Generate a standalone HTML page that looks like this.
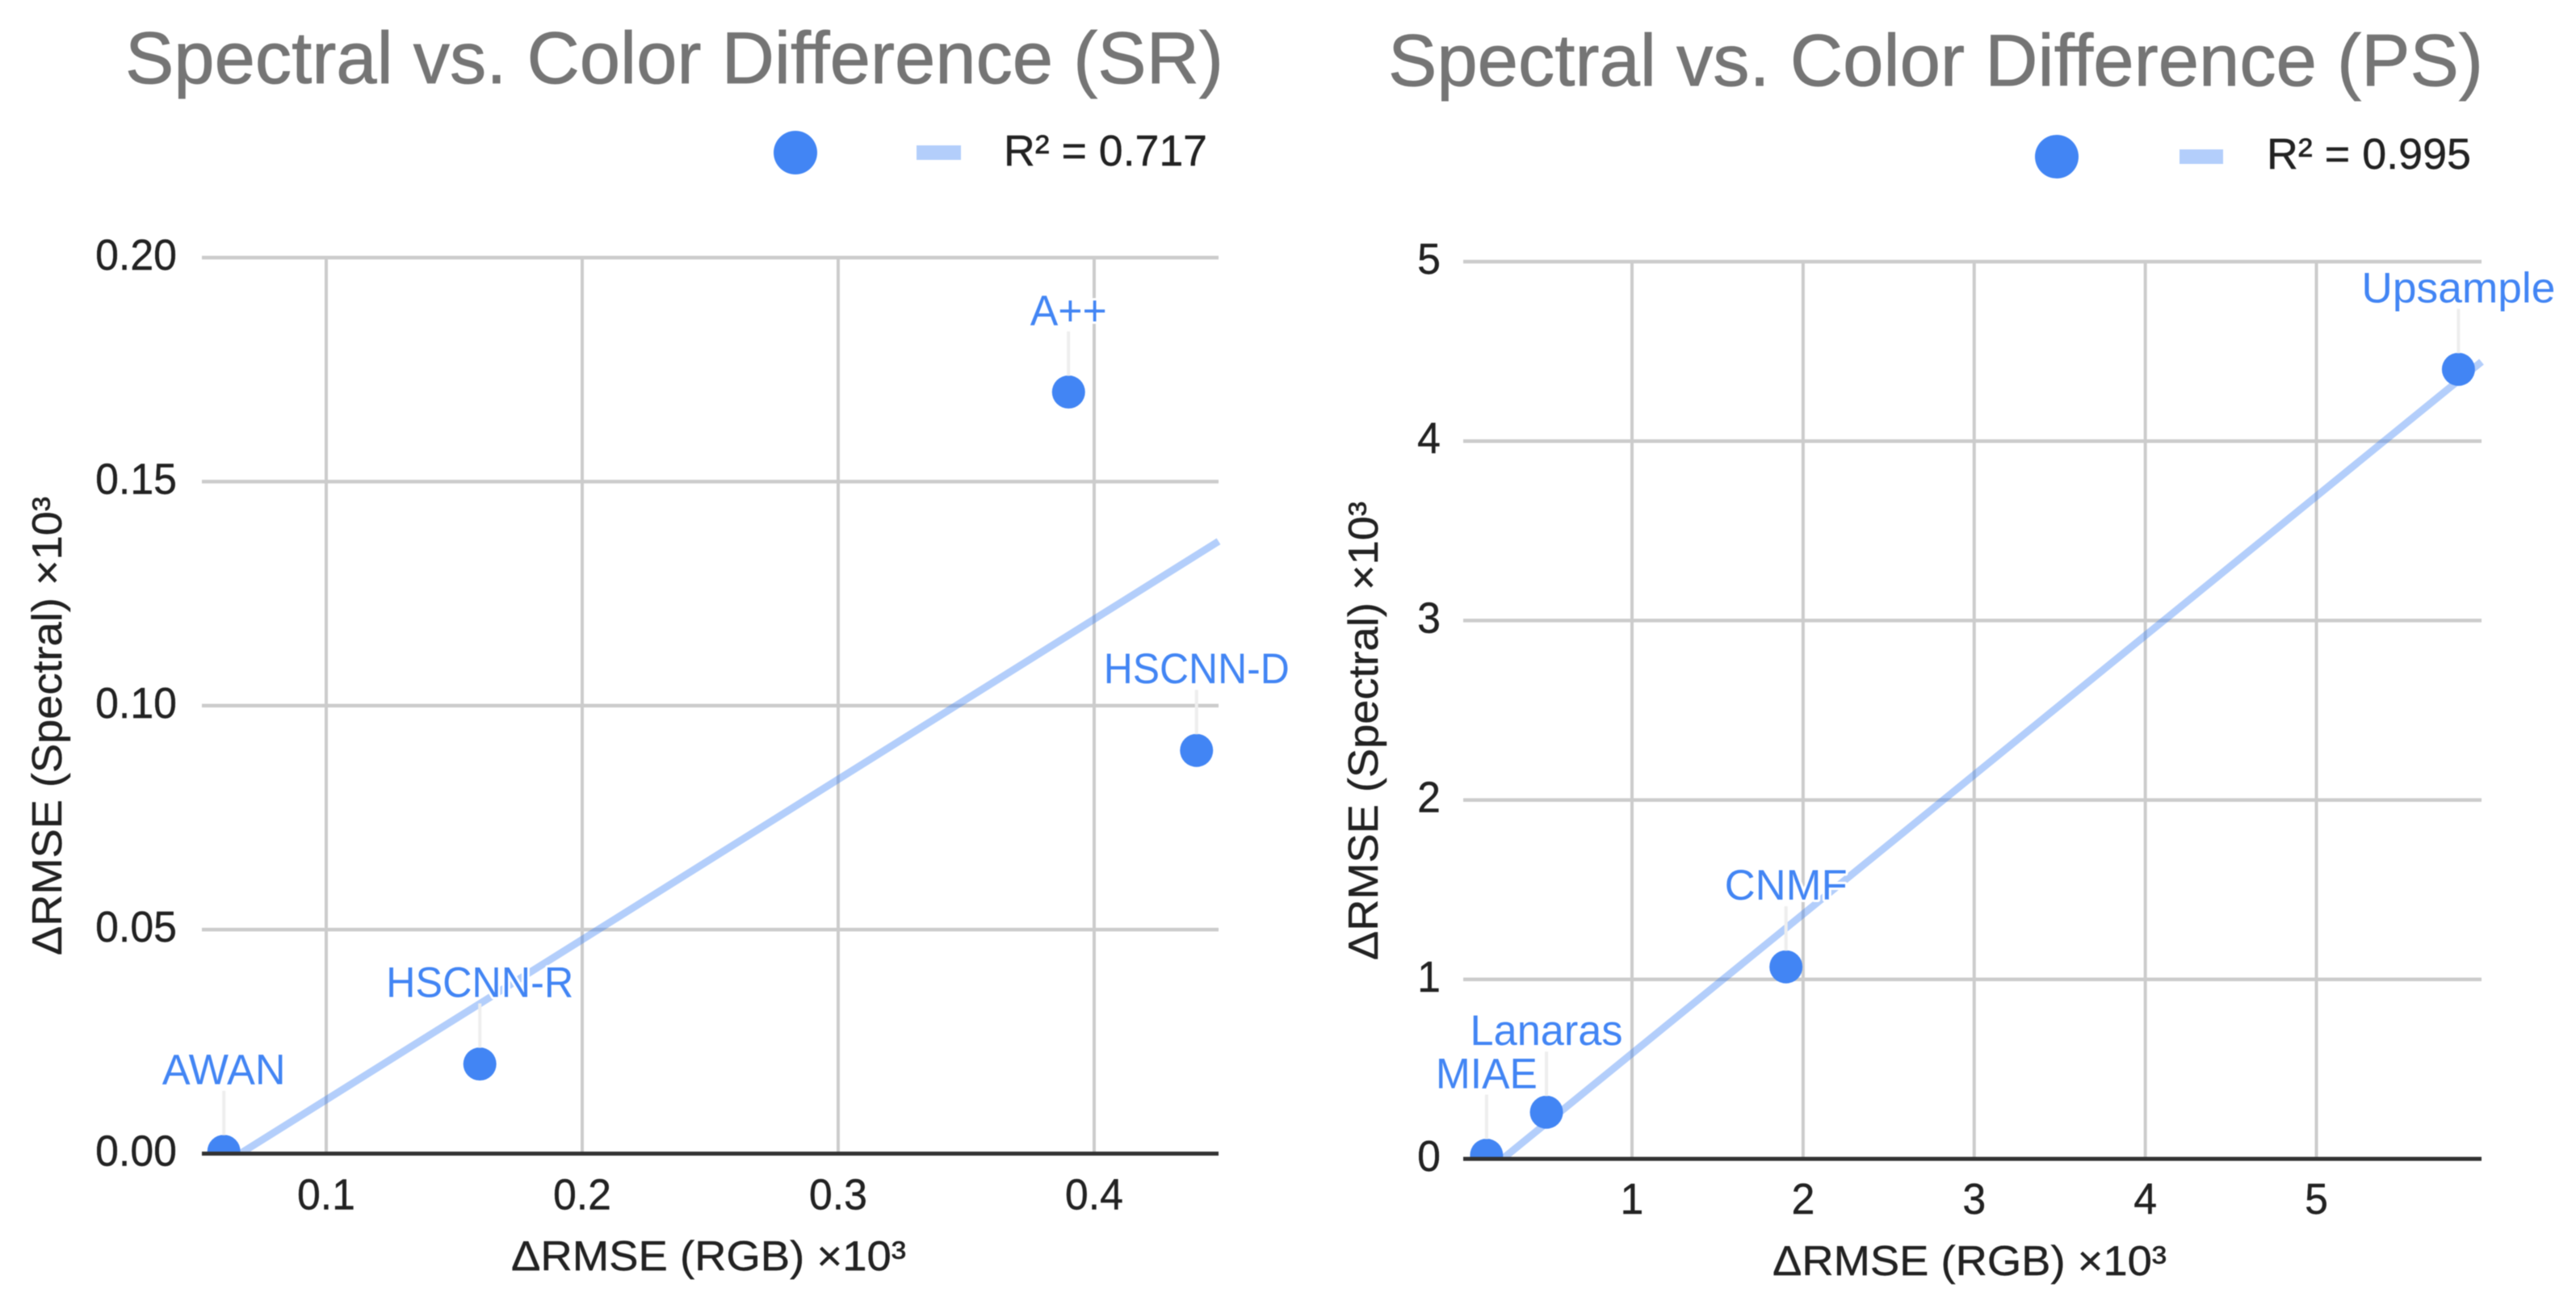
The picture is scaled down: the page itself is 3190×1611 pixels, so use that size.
<!DOCTYPE html>
<html lang="en">
<head>
<meta charset="utf-8">
<title>Spectral vs. Color Difference</title>
<style>
  html, body { margin: 0; padding: 0; background: #ffffff; }
  svg { display: block; font-family: "Liberation Sans", Arial, sans-serif; filter: blur(0.6px); }
  .title { font-size: 91px; fill: #757575; stroke: #757575; stroke-width: 0.8px; }
  .legend-text { font-size: 54px; fill: #222222; stroke: #222222; stroke-width: 0.4px; }
  .axis-title { font-size: 52px; fill: #222222; stroke: #222222; stroke-width: 0.4px; }
  .tick { font-size: 54px; fill: #222222; stroke: #222222; stroke-width: 0.4px; }
  .point-label { font-size: 53px; fill: #4285f4; stroke: #ffffff; stroke-width: 6px; paint-order: stroke; stroke-linejoin: round; text-anchor: middle; }
</style>
</head>
<body>
<svg id="figure" xmlns="http://www.w3.org/2000/svg" width="3190" height="1611" viewBox="0 0 3190 1611">
  <rect x="0" y="0" width="3190" height="1611" fill="#ffffff"/>
  <defs>
    <clipPath id="clip-sr"><rect x="250" y="317" width="1266" height="1111.5"/></clipPath>
    <clipPath id="clip-ps"><rect x="1812" y="322" width="1268" height="1113"/></clipPath>
  </defs>

  <g id="chart-sr">
    <text class="title" x="155" y="103" textLength="1360" lengthAdjust="spacingAndGlyphs">Spectral vs. Color Difference (SR)</text>
    <circle cx="985" cy="189" r="27" fill="#4285f4"/>
    <rect x="1135" y="180" width="55" height="18" fill="#b3cefb"/>
    <text class="legend-text" x="1243" y="205" textLength="252" lengthAdjust="spacingAndGlyphs">R² = 0.717</text>
    <text class="axis-title" x="633" y="1573" textLength="489" lengthAdjust="spacingAndGlyphs">ΔRMSE (RGB) ×10³</text>
    <text class="axis-title" transform="translate(76 1183) rotate(-90)" textLength="568" lengthAdjust="spacingAndGlyphs">ΔRMSE (Spectral) ×10³</text>
  </g>

  <g id="chart-ps">
    <text class="title" x="1719" y="106" textLength="1356" lengthAdjust="spacingAndGlyphs">Spectral vs. Color Difference (PS)</text>
    <circle cx="2547" cy="194" r="27" fill="#4285f4"/>
    <rect x="2699" y="185" width="54" height="18" fill="#b3cefb"/>
    <text class="legend-text" x="2807" y="209" textLength="253" lengthAdjust="spacingAndGlyphs">R² = 0.995</text>
    <text class="axis-title" x="2195" y="1579" textLength="488" lengthAdjust="spacingAndGlyphs">ΔRMSE (RGB) ×10³</text>
    <text class="axis-title" transform="translate(1706 1189) rotate(-90)" textLength="568" lengthAdjust="spacingAndGlyphs">ΔRMSE (Spectral) ×10³</text>
  </g>
</svg>

<script>
// ----- Chart data -----
const srMethods = ["AWAN", "HSCNN-R", "A++", "HSCNN-D"];
const srRgb = [0.06, 0.16, 0.39, 0.44];
const srSpectral = [0.0005, 0.02, 0.17, 0.09];
const srXTicks = [0.1, 0.2, 0.3, 0.4];
const srXTickLabels = ["0.1", "0.2", "0.3", "0.4"];
const srYTicks = [0, 0.05, 0.1, 0.15, 0.2];
const srYTickLabels = ["0.00", "0.05", "0.10", "0.15", "0.20"];

const psMethods = ["MIAE", "Lanaras", "CNMF", "Upsample"];
const psRgb = [0.15, 0.5, 1.9, 5.83];
const psSpectral = [0.02, 0.26, 1.07, 4.4];
const psXTicks = [1, 2, 3, 4, 5];
const psXTickLabels = ["1", "2", "3", "4", "5"];
const psYTicks = [0, 1, 2, 3, 4, 5];
const psYTickLabels = ["0", "1", "2", "3", "4", "5"];

const SVG_NS = "http://www.w3.org/2000/svg";

function make(parent, tag, attrs) {
  const node = document.createElementNS(SVG_NS, tag);
  for (const key in attrs) node.setAttribute(key, attrs[key]);
  parent.appendChild(node);
  return node;
}

// Narrow a label to the target proportion of its natural width
function condense(node, factor) {
  node.setAttribute("textLength", node.getComputedTextLength() * factor);
  node.setAttribute("lengthAdjust", "spacingAndGlyphs");
}

// Least-squares fit used for the trendline
function fitLine(xs, ys) {
  const n = xs.length;
  const mx = xs.reduce((a, b) => a + b, 0) / n;
  const my = ys.reduce((a, b) => a + b, 0) / n;
  let sxy = 0, sxx = 0;
  for (let i = 0; i < n; i++) {
    sxy += (xs[i] - mx) * (ys[i] - my);
    sxx += (xs[i] - mx) * (xs[i] - mx);
  }
  const slope = sxy / sxx;
  return { slope: slope, intercept: my - slope * mx };
}

function drawChart(root, prefix, clipId, frame, data) {
  const xScale = v => frame.left + (v - frame.xMin) / (frame.xMax - frame.xMin) * (frame.right - frame.left);
  const yScale = v => frame.bottom - (v - frame.yMin) / (frame.yMax - frame.yMin) * (frame.bottom - frame.top);

  // Gridlines
  const grid = make(root, "g", { stroke: "#cccccc", "stroke-width": 4.5 });
  
  
  data.yTicks.forEach(t => {
    if (t === frame.yMin) return;
    const line = make(grid, "line", { x1: frame.left, x2: frame.right, y1: yScale(t), y2: yScale(t) });
    
    
  });
  data.xTicks.forEach(t => {
    const line = make(grid, "line", { x1: xScale(t), x2: xScale(t), y1: frame.top, y2: frame.bottom, "stroke-width": 4 });
    
    
  });

  // Tick labels
  data.yTicks.forEach((t, i) => {
    const label = make(root, "text", { class: "tick", x: frame.left - frame.yLabelGap, y: yScale(t) + 15, "text-anchor": "end" });
    label.textContent = data.yTickLabels[i];
    
    
    condense(label, 0.96);
  });
  data.xTicks.forEach((t, i) => {
    const label = make(root, "text", { class: "tick", x: xScale(t), y: frame.bottom + frame.xLabelGap, "text-anchor": "middle" });
    label.textContent = data.xTickLabels[i];
    
    
    condense(label, 0.96);
  });

  const plot = make(root, "g", { "clip-path": "url(#" + clipId + ")" });
  
  

  // Trendline
  const fit = fitLine(data.xs, data.ys);
  const trend = make(plot, "line", {
    x1: xScale(frame.xMin), y1: yScale(fit.slope * frame.xMin + fit.intercept),
    x2: xScale(frame.xMax), y2: yScale(fit.slope * frame.xMax + fit.intercept),
    stroke: "#4285f4", "stroke-opacity": 0.4, "stroke-width": 9
  });
  
  

  // Leader lines
  data.xs.forEach((v, i) => {
    const px = xScale(v), py = yScale(data.ys[i]);
    const leader = make(root, "line", { x1: px, x2: px, y1: py - 20, y2: py - 75, stroke: "#eeeeee", "stroke-width": 4 });
    
    
  });

  // Points
  data.xs.forEach((v, i) => {
    const dot = make(plot, "circle", { cx: xScale(v), cy: yScale(data.ys[i]), r: 20.5, fill: "#4285f4" });
    
    
  });

  // Point labels
  data.xs.forEach((v, i) => {
    const label = make(root, "text", { class: "point-label", x: xScale(v), y: yScale(data.ys[i]) - 83 });
    label.textContent = data.names[i];
    
    
    label.setAttribute("textLength", frame.labelWidths[data.names[i]]);
    label.setAttribute("lengthAdjust", "spacingAndGlyphs");
  });

  // Baseline axis
  const axis = make(root, "line", { x1: frame.left, x2: frame.right, y1: yScale(frame.yMin), y2: yScale(frame.yMin), stroke: "#333333", "stroke-width": 5 });
  
  
}

drawChart(document.getElementById("chart-sr"), "sr", "clip-sr",
  { left: 250, right: 1509, top: 319, bottom: 1428.5, xMin: 0.05142, xMax: 0.4486, yMin: 0, yMax: 0.2, yLabelGap: 31, xLabelGap: 69,
    labelWidths: { "AWAN": 153, "HSCNN-R": 232, "A++": 95, "HSCNN-D": 230 } },
  { names: srMethods, xs: srRgb, ys: srSpectral, xTicks: srXTicks, xTickLabels: srXTickLabels, yTicks: srYTicks, yTickLabels: srYTickLabels });

drawChart(document.getElementById("chart-ps"), "ps", "clip-ps",
  { left: 1812, right: 3073, top: 324, bottom: 1435, xMin: 0.0137, xMax: 5.965, yMin: 0, yMax: 5, yLabelGap: 28, xLabelGap: 68,
    labelWidths: { "MIAE": 126, "Lanaras": 189, "CNMF": 152, "Upsample": 240 } },
  { names: psMethods, xs: psRgb, ys: psSpectral, xTicks: psXTicks, xTickLabels: psXTickLabels, yTicks: psYTicks, yTickLabels: psYTickLabels });
</script>
</body>
</html>
